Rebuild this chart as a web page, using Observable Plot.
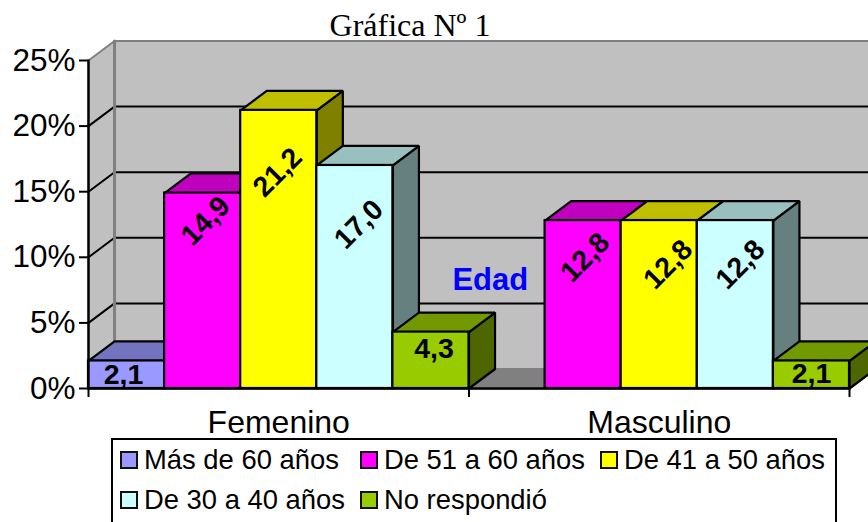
<!DOCTYPE html>
<html lang="es">
<head>
<meta charset="utf-8">
<script src="https://cdn.jsdelivr.net/npm/d3@7"></script>
<script src="https://cdn.jsdelivr.net/npm/@observablehq/plot@0.6"></script>
<style>
html,body{margin:0;padding:0;background:#fff;width:868px;height:522px;overflow:hidden}
#wrap{position:relative;width:868px;height:522px;overflow:hidden}
#title{position:absolute;left:0;top:6px;width:820px;text-align:center;font:32px/38px "Liberation Serif",serif;color:#000}
#chart{position:absolute;left:0;top:36px}
#chart svg{display:block;overflow:hidden}
#legend{position:absolute;left:111px;top:438px;width:722px;height:100px;border:2px solid #000;background:#fff;box-sizing:content-box;
  font:27.4px/40px "Liberation Sans",Arial,sans-serif;color:#000;display:grid;grid-template-columns:240px 240px 240px;grid-auto-rows:40px;padding:0}
.item{display:flex;align-items:center;white-space:nowrap;padding-left:7px}
.sw{width:14px;height:14px;border:2px solid #111;margin-right:6px;flex:none}
</style>
</head>
<body>
<div id="wrap">
  <div id="title">Gráfica Nº 1</div>
  <div id="chart"></div>
  <div id="legend"></div>
</div>
<script>
const categories = ["Femenino", "Masculino"];
const series = ["Más de 60 años", "De 51 a 60 años", "De 41 a 50 años", "De 30 a 40 años", "No respondió"];
const femenino = [2.1, 14.9, 21.2, 17.0, 4.3];
const masculino = [null, 12.8, 12.8, 12.8, 2.1];
const yTicks = [0, 5, 10, 15, 20, 25];

const frontColors = ["#9999FF", "#FF00FF", "#FFFF00", "#CCFFFF", "#99CC00"];
const topColors   = ["#7373BF", "#BF00BF", "#BFBF00", "#99BFBF", "#739900"];
const sideColors  = ["#4D4D80", "#800080", "#808000", "#668080", "#4D6600"];

const perGroup = series.length;
const slots = perGroup * categories.length;
const depthX = 26 / 76;      // depth of the 3D box, in bar widths
const depthY = 19.5 / 13.12; // depth of the 3D box, in percentage points
const lw = 2.2;

const bars = [femenino, masculino].flatMap((vals, g) =>
  vals.map((v, s) => ({v, s, x0: g * perGroup + s, x1: g * perGroup + s + 1, key: `${g}-${s}`})).filter(d => d.v != null));

const poly = (pts, fill, stroke = "#000", strokeWidth = lw) =>
  Plot.line(pts.map(([x, y]) => ({x, y})), {x: "x", y: "y", curve: "linear-closed", fill, stroke, strokeWidth, strokeLinejoin: "miter"});
const path = (pts, stroke, strokeWidth) =>
  Plot.line(pts.map(([x, y]) => ({x, y})), {x: "x", y: "y", stroke, strokeWidth, strokeLinejoin: "miter"});

const yMax = yTicks[yTicks.length - 1];
const marks = [
  // walls and floor
  poly([[depthX, depthY], [slots + depthX, depthY], [slots + depthX, yMax + depthY], [depthX, yMax + depthY]], "#C0C0C0", "#808080", 2),
  poly([[0, 0], [depthX, depthY], [depthX, yMax + depthY], [0, yMax]], "#C0C0C0", "#808080", 2),
  poly([[0, 0], [slots, 0], [slots + depthX, depthY], [depthX, depthY]], "#808080", "#808080", 2),
  // gridlines
  ...yTicks.slice(1, -1).map(t => path([[0, t], [depthX, t + depthY], [slots + depthX, t + depthY]], "#000", 2)),
  path([[depthX, depthY], [depthX, yMax + depthY]], "#808080", 3),
  // bars, back to front
  ...bars.flatMap(b => [
    poly([[b.x1, 0], [b.x1 + depthX, depthY], [b.x1 + depthX, b.v + depthY], [b.x1, b.v]], sideColors[b.s]),
    poly([[b.x0, b.v], [b.x1, b.v], [b.x1 + depthX, b.v + depthY], [b.x0 + depthX, b.v + depthY]], topColors[b.s]),
    Plot.rect([b], {x1: "x0", x2: "x1", y1: 0, y2: "v", fill: frontColors[b.s], stroke: "#000", strokeWidth: lw, inset: 0})
  ]),
  // axes
  Plot.axisY({ticks: yTicks, tickFormat: d => d + "%", tickSize: 9, tickPadding: 4, fontSize: 31.5, label: null, strokeWidth: 2, stroke: "#000", color: "#000", fontFamily: "Liberation Sans"}),
  Plot.axisX([0, perGroup, slots], {tickSize: 9, tickFormat: () => "", label: null, strokeWidth: 2, stroke: "#000"}),
  Plot.axisX([perGroup / 2, perGroup * 1.5], {tickSize: 0, tickPadding: 22, tickFormat: d => categories[Math.floor(d / perGroup)], fontSize: 32, label: null, fill: "#000", fontFamily: "Liberation Sans"}),
  path([[0, 0], [0, yMax]], "#000", 2.4),
  path([[0, 0], [slots, 0]], "#000", 2.6),
  // value labels
  ...bars.map(b => {
    const flat = b.v < 10;
    const nudge = {"0-0": [-3, 13.5], "0-1": [3, 28], "0-2": [-1, 62], "0-3": [4, 59], "0-4": [3, 17], "1-1": [2, 37], "1-2": [9, 44], "1-3": [5, 44], "1-4": [0, 13]}[b.key];
    return Plot.text([b], {x: d => d.x0 + 0.5, y: "v", text: d => d.v.toFixed(1).replace(".", ","),
      rotate: flat ? 0 : -45, dx: nudge[0], dy: nudge[1], fontSize: 28.5, fontWeight: "bold", fill: "#000", fontFamily: "Liberation Sans", textAnchor: "middle", lineAnchor: "middle"});
  }),
  // series title placed in the gap
  Plot.text(["Edad"], {x: perGroup + 0.28, y: 8.25, text: d => d, fontSize: 31, fontWeight: "bold", fill: "#0000FF", fontFamily: "Liberation Sans"})
];

const plot = Plot.plot({
  width: 868, height: 432,
  marginLeft: 88, marginRight: 19, marginTop: 24, marginBottom: 80,
  style: {background: "transparent", fontFamily: "Liberation Sans"},
  x: {type: "linear", domain: [0, slots], axis: null},
  y: {domain: [0, yMax], axis: null},
  marks
});
document.getElementById("chart").append(plot);

const legend = document.getElementById("legend");
series.forEach((name, i) => {
  const item = document.createElement("div");
  item.className = "item";
  const sw = document.createElement("span");
  sw.className = "sw";
  sw.style.background = frontColors[i];
  item.append(sw, document.createTextNode(name));
  legend.append(item);
});
</script>
</body>
</html>
